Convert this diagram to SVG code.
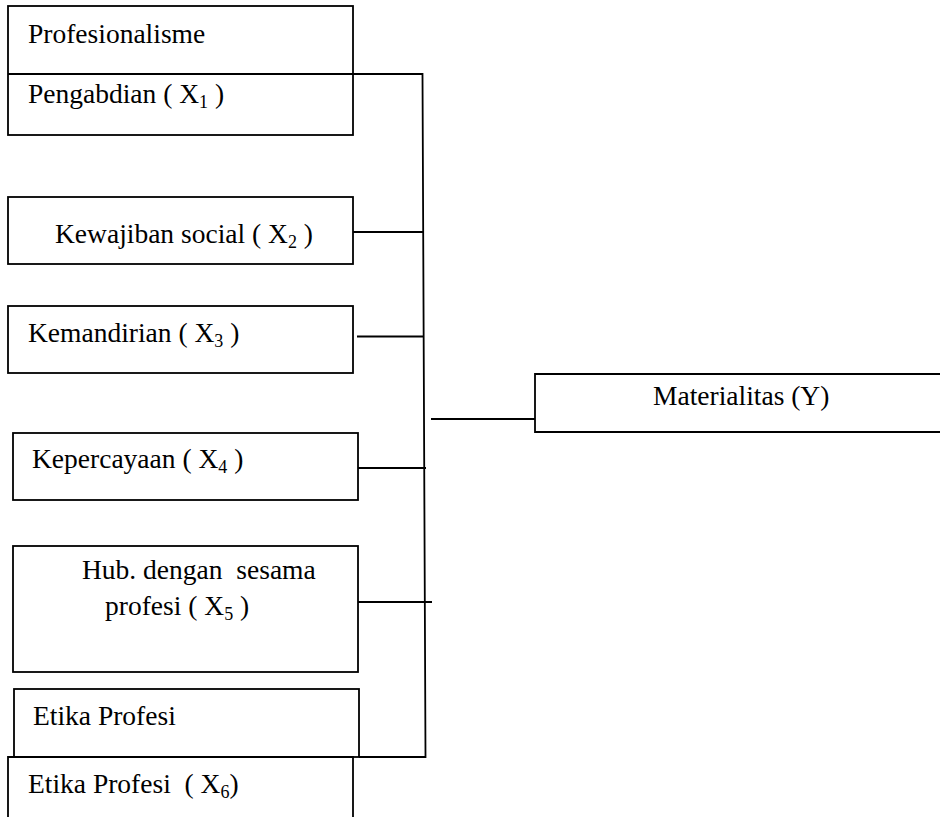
<svg xmlns="http://www.w3.org/2000/svg" width="940" height="817" viewBox="0 0 940 817">
<style>
.box{fill:#fff;stroke:#000;stroke-width:1.8}
.ln{stroke:#000;stroke-width:1.8;fill:none}
text{font-family:"Liberation Serif","Times New Roman",serif;font-size:27.5px;fill:#000}
.sub{font-size:18px}
</style>
<rect width="940" height="817" fill="#fff"/>
<g id="connectors">
<polyline class="ln" points="353,74 422.5,74 425.5,757 359,757"/>
<line class="ln" x1="353" y1="232" x2="423.5" y2="232"/>
<line class="ln" x1="357" y1="336.5" x2="424" y2="336.5"/>
<line class="ln" x1="354" y1="468" x2="426" y2="468"/>
<line class="ln" x1="358" y1="602" x2="432" y2="602"/>
<line class="ln" x1="431" y1="419" x2="535" y2="419"/>
</g>
<g id="profesionalisme">
<rect class="box" x="8" y="6" width="345" height="129"/>
<line class="ln" x1="8" y1="74" x2="353" y2="74"/>
<text x="28" y="43">Profesionalisme</text>
<text x="28" y="103">Pengabdian ( X<tspan class="sub" dy="5">1</tspan><tspan dy="-5"> )</tspan></text>
</g>
<g id="x2">
<rect class="box" x="8" y="197" width="345" height="67"/>
<text x="55" y="243">Kewajiban social ( X<tspan class="sub" dy="5">2</tspan><tspan dy="-5"> )</tspan></text>
</g>
<g id="x3">
<rect class="box" x="8" y="306" width="345" height="67"/>
<text x="28" y="342">Kemandirian ( X<tspan class="sub" dy="5">3</tspan><tspan dy="-5"> )</tspan></text>
</g>
<g id="x4">
<rect class="box" x="13" y="433" width="345" height="67"/>
<text x="32" y="468">Kepercayaan ( X<tspan class="sub" dy="5">4</tspan><tspan dy="-5"> )</tspan></text>
</g>
<g id="x5">
<rect class="box" x="13" y="546" width="345" height="126"/>
<text x="82" y="579" xml:space="preserve">Hub. dengan  sesama</text>
<text x="105" y="615">profesi ( X<tspan class="sub" dy="5">5</tspan><tspan dy="-5"> )</tspan></text>
</g>
<g id="etika">
<rect class="box" x="14" y="689" width="345" height="68"/>
<text x="33" y="725">Etika Profesi</text>
</g>
<g id="x6">
<polyline class="ln" points="8,830 8,757 353,757 353,830"/>
<text x="28" y="793" xml:space="preserve">Etika Profesi  ( X<tspan class="sub" dy="5">6</tspan><tspan dy="-5">)</tspan></text>
</g>
<g id="y">
<polyline class="ln" points="950,374 535,374 535,432 950,432"/>
<text x="653" y="405">Materialitas (Y)</text>
</g>
</svg>
